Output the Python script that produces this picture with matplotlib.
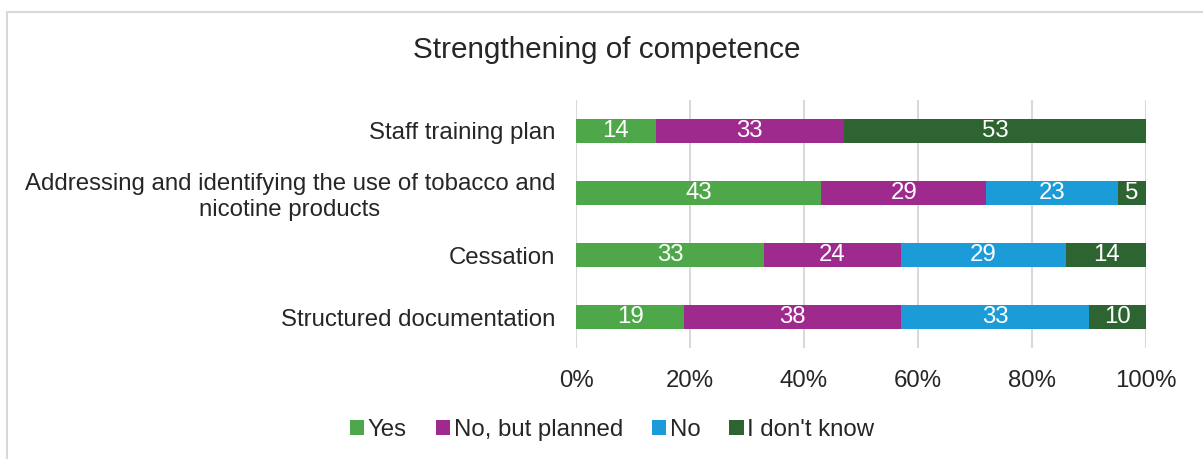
import matplotlib.pyplot as plt
from matplotlib.patches import Rectangle
import numpy as np

plt.rcParams['font.family'] = ['Liberation Sans', 'DejaVu Sans']

categories = ['Staff training plan',
              'Addressing and identifying the use of tobacco and\nnicotine products',
              'Cessation',
              'Structured documentation']
series = ['Yes', 'No, but planned', 'No', "I don't know"]
yes = [14, 43, 33, 19]
planned = [33, 29, 24, 38]
no = [0, 23, 29, 33]
dont_know = [53, 5, 14, 10]
colors = ['#4EA84A', '#9E2A8E', '#1B9CD8', '#2E6431']

fig = plt.figure(figsize=(12.03, 4.59), dpi=100)
ax = fig.add_axes([576 / 1203, 111 / 459, 570 / 1203, 248 / 459])

# light frame around the chart area
fig.patches.append(Rectangle((6.5 / 1203, -0.05), 1.2, 1 - 12.5 / 459 + 0.05,
                             transform=fig.transFigure, fill=False,
                             edgecolor='#D9D9D9', linewidth=1.5))

y = np.arange(len(categories))
left = np.zeros(len(categories))
for name, vals, col in zip(series, [yes, planned, no, dont_know], colors):
    vals = np.array(vals, dtype=float)
    bars = ax.barh(y, vals, left=left, height=0.39, color=col, label=name, zorder=3)
    for b, v in zip(bars, vals):
        if v > 0:
            ax.text(b.get_x() + b.get_width() / 2, b.get_y() + b.get_height() / 2,
                    f'{v:.0f}', ha='center', va='center', color='white',
                    fontsize=17.3, zorder=4)
    left += vals

ax.set_xlim(0, 100)
ax.set_ylim(len(categories) - 0.5, -0.5)
ax.set_yticks(y)
ax.set_yticklabels(categories, fontsize=17.3, color='#262626', ha='right',
                   multialignment='center')
ax.tick_params(axis='y', length=0, pad=15)
ax.set_xticks(np.arange(0, 101, 20))
ax.set_xticklabels([f'{t}%' for t in range(0, 101, 20)], fontsize=17.3, color='#262626')
ax.tick_params(axis='x', length=0, pad=16)
ax.grid(axis='x', color='#D9D9D9', linewidth=1.5, zorder=0)
for s in ax.spines.values():
    s.set_visible(False)

fig.text(607 / 1203, 1 - 50 / 459, 'Strengthening of competence', ha='center', va='center',
         fontsize=21.4, color='#262626')

fig.legend(loc='center', bbox_to_anchor=(612 / 1203, 1 - 430 / 459), ncol=4, frameon=False,
           fontsize=17.3, handlelength=0.6, handleheight=0.6, handletextpad=0.15,
           columnspacing=1.2, labelcolor='#262626')

fig.savefig('out.png', dpi=100)
